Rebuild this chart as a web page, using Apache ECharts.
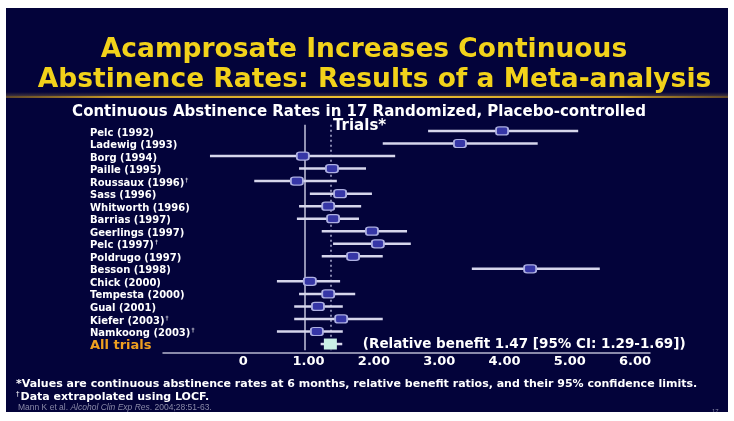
<!DOCTYPE html>
<html>
<head>
<meta charset="utf-8">
<script src="https://cdn.jsdelivr.net/npm/echarts@6/dist/echarts.min.js"></script>
<style>
  html, body { margin: 0; padding: 0; background: #ffffff; }
  #chart { width: 734px; height: 421px; }
</style>
</head>
<body>
<div id="chart"></div>
<script>
// Trials in the meta-analysis, top to bottom
const trials = [
  'Pelc (1992)', 'Ladewig (1993)', 'Borg (1994)', 'Paille (1995)',
  'Roussaux (1996)', 'Sass (1996)', 'Whitworth (1996)', 'Barrias (1997)',
  'Geerlings (1997)', 'Pelc (1997)', 'Poldrugo (1997)', 'Besson (1998)',
  'Chick (2000)', 'Tempesta (2000)', 'Gual (2001)', 'Kiefer (2003)',
  'Namkoong (2003)'
];
// Trials whose data were extrapolated using LOCF
const locfTrials = ['Roussaux (1996)', 'Pelc (1997)', 'Kiefer (2003)', 'Namkoong (2003)'];

// Relative benefit and 95% confidence limits for each trial
const relativeBenefit = [4.65, 3.87, 0.96, 1.50, 0.85, 1.65, 1.43, 1.52, 2.24, 2.35, 1.89, 5.17, 1.09, 1.43, 1.24, 1.67, 1.22];
const ciLower         = [3.28, 2.44, -0.76, 0.89, 0.06, 1.09, 0.89, 0.85, 1.31, 1.52, 1.31, 4.09, 0.48, 0.89, 0.80, 0.80, 0.48];
const ciUpper         = [6.06, 5.31, 2.67, 2.13, 1.59, 2.24, 2.04, 2.00, 2.89, 2.96, 2.44, 6.46, 1.65, 1.93, 1.70, 2.44, 1.70];

// Pooled result
const pooledName = 'All trials';
const pooledBenefit = 1.47;
const pooledLower = 1.29;
const pooledUpper = 1.69;

// Printed scale under the plot
const tickValues = [0, 1, 2, 3, 4, 5, 6];
const tickLabels = ['0', '1.00', '2.00', '3.00', '4.00', '5.00', '6.00'];

const titleLines = ['Acamprosate Increases Continuous', 'Abstinence Rates: Results of a Meta-analysis'];
const subtitleLines = ['Continuous Abstinence Rates in 17 Randomized, Placebo-controlled', 'Trials*'];
const footnotes = [
  '*Values are continuous abstinence rates at 6 months, relative benefit ratios, and their 95% confidence limits.',
  'Data extrapolated using LOCF.'
];
const citation = ['Mann K et al. ', 'Alcohol Clin Exp Res', '. 2004;28:51-63.'];
const slideNumber = '17';

const categories = trials.concat([pooledName]);
const lowerAll = ciLower.concat([pooledLower]);
const upperAll = ciUpper.concat([pooledUpper]);

const NAVY = '#03033a';
const LABEL_FONT = 'DejaVu Sans';

const chart = echarts.init(document.getElementById('chart'), null, { renderer: 'canvas' });

const option = {
  backgroundColor: NAVY,
  animation: false,
  grid: [
    { left: 163, right: 84, top: 124.7, bottom: 70.7 },
    { left: 243.3, right: 98.9, top: 124.7, bottom: 70.7 }
  ],
  xAxis: [
    {
      type: 'value', gridIndex: 0, min: -1.63, max: 7.39, offset: 2,
      axisLine: { show: true, lineStyle: { color: '#b8b8d0', width: 1.5 } },
      axisTick: { show: false }, axisLabel: { show: false }, splitLine: { show: false }
    },
    {
      type: 'value', gridIndex: 1, min: 0, max: 6, interval: 1,
      axisLine: { show: false }, axisTick: { show: false }, splitLine: { show: false },
      axisLabel: {
        show: true, margin: 5, color: '#ffffff', fontFamily: LABEL_FONT,
        fontWeight: 'bold', fontSize: 13, showMinLabel: true, showMaxLabel: true,
        formatter: v => { const i = tickValues.indexOf(v); return i >= 0 ? tickLabels[i] : ''; }
      }
    }
  ],
  yAxis: [
    {
      type: 'category', gridIndex: 0, data: categories, inverse: true,
      axisLine: { show: false }, axisTick: { show: false }, splitLine: { show: false },
      axisLabel: {
        interval: 0, margin: 73, align: 'left', padding: [4, 0, 0, 0],
        formatter: name => {
          if (name === pooledName) return '{all|' + name + '}';
          return '{n|' + name + '}' + (locfTrials.indexOf(name) >= 0 ? '{d|†}' : '');
        },
        rich: {
          n: { color: '#ffffff', fontFamily: LABEL_FONT, fontWeight: 'bold', fontSize: 10 },
          d: { color: '#ffffff', fontFamily: LABEL_FONT, fontSize: 6, padding: [0, 0, 6, 1] },
          all: { color: '#f0a020', fontFamily: LABEL_FONT, fontWeight: 'bold', fontSize: 13 }
        }
      }
    },
    { type: 'value', gridIndex: 1, show: false, min: 0, max: 1 }
  ],
  series: [
    {
      // confidence interval bars
      type: 'custom', xAxisIndex: 0, yAxisIndex: 0, z: 3,
      data: categories.map((c, i) => [i, lowerAll[i], upperAll[i]]),
      encode: { x: [1, 2], y: 0 },
      renderItem: (params, api) => {
        const a = api.coord([api.value(1), api.value(0)]);
        const b = api.coord([api.value(2), api.value(0)]);
        return {
          type: 'line',
          shape: { x1: a[0], y1: a[1], x2: b[0], y2: b[1] },
          style: { stroke: '#d6d6ec', lineWidth: 2.5 }
        };
      },
      markLine: {
        silent: true, symbol: 'none', label: { show: false }, z: 1,
        data: [
          { xAxis: 1, lineStyle: { color: '#c4c4dc', width: 1.5, type: 'solid' } },
          { xAxis: pooledBenefit, lineStyle: { color: '#b0b0d4', width: 1.5, type: [2, 3] } }
        ]
      }
    },
    {
      // point estimates for each trial
      type: 'scatter', xAxisIndex: 0, yAxisIndex: 0, z: 5,
      symbol: 'roundRect', symbolSize: [12, 8],
      itemStyle: { color: '#3636a6', borderColor: '#aeb0e2', borderWidth: 1.5, opacity: 1 },
      data: trials.map((t, i) => [relativeBenefit[i], t])
    },
    {
      // pooled estimate
      type: 'scatter', xAxisIndex: 0, yAxisIndex: 0, z: 6,
      symbol: 'rect', symbolSize: [13, 11],
      itemStyle: { color: '#c9f0e6', opacity: 1 },
      data: [[pooledBenefit, pooledName]],
      label: {
        show: true, position: 'right', distance: 26, color: '#ffffff',
        fontFamily: LABEL_FONT, fontWeight: 'bold', fontSize: 13.5,
        formatter: () => '(Relative benefit ' + pooledBenefit.toFixed(2) + ' [95% CI: ' +
          pooledLower.toFixed(2) + '-' + pooledUpper.toFixed(2) + '])'
      }
    }
  ],
  graphic: [
    // gold rule under the title, with a soft glow above it
    {
      type: 'rect', shape: { x: 6, y: 92, width: 722, height: 4 }, silent: true,
      style: {
        fill: new echarts.graphic.LinearGradient(0, 0, 0, 1, [
          { offset: 0, color: 'rgba(200,160,70,0)' },
          { offset: 1, color: 'rgba(200,160,70,0.3)' }
        ])
      }
    },
    {
      type: 'rect', shape: { x: 6, y: 96, width: 722, height: 2 }, silent: true,
      style: {
        fill: new echarts.graphic.LinearGradient(0, 0, 1, 0, [
          { offset: 0, color: 'rgba(160,120,30,0.6)' },
          { offset: 0.15, color: '#c89a28' },
          { offset: 0.5, color: '#f2c432' },
          { offset: 0.85, color: '#c89a28' },
          { offset: 1, color: 'rgba(160,120,30,0.6)' }
        ])
      }
    },
    {
      type: 'text', x: 364, y: 50, silent: true,
      style: { text: titleLines[0], fill: '#f2d21a', font: 'bold 26.5px "DejaVu Sans"', align: 'center', verticalAlign: 'middle' }
    },
    {
      type: 'text', x: 374.5, y: 80, silent: true,
      style: { text: titleLines[1], fill: '#f2d21a', font: 'bold 26.5px "DejaVu Sans"', align: 'center', verticalAlign: 'middle' }
    },
    {
      type: 'text', x: 359, y: 112, silent: true,
      style: { text: subtitleLines[0], fill: '#ffffff', font: 'bold 15px "DejaVu Sans"', align: 'center', verticalAlign: 'middle' }
    },
    {
      type: 'text', x: 333, y: 126, silent: true,
      style: { text: subtitleLines[1], fill: '#ffffff', font: 'bold 15px "DejaVu Sans"', align: 'left', verticalAlign: 'middle' }
    },
    {
      type: 'text', x: 16, y: 384, silent: true,
      style: { text: footnotes[0], fill: '#ffffff', font: 'bold 11px "DejaVu Sans"', align: 'left', verticalAlign: 'middle' }
    },
    {
      type: 'text', x: 16, y: 397, silent: true,
      style: {
        text: '{d|†}{t|' + footnotes[1] + '}', align: 'left', verticalAlign: 'middle',
        rich: {
          d: { fill: '#ffffff', font: '7px "DejaVu Sans"', padding: [0, 1, 5, 0] },
          t: { fill: '#ffffff', font: 'bold 11px "DejaVu Sans"' }
        }
      }
    },
    {
      type: 'text', x: 18, y: 408, silent: true,
      style: {
        text: '{a|' + citation[0] + '}{b|' + citation[1] + '}{a|' + citation[2] + '}',
        align: 'left', verticalAlign: 'middle',
        rich: {
          a: { fill: '#8a8aa8', font: '8.5px "Liberation Sans"' },
          b: { fill: '#8a8aa8', font: 'italic 8.5px "Liberation Sans"' }
        }
      }
    },
    {
      type: 'text', x: 712, y: 411, silent: true,
      style: { text: slideNumber, fill: '#8a8aa8', font: '6px "Liberation Sans"', align: 'left', verticalAlign: 'middle' }
    },
    // white margin round the slide
    { type: 'rect', shape: { x: 0, y: 0, width: 734, height: 8 }, style: { fill: '#ffffff' }, silent: true, z: 100 },
    { type: 'rect', shape: { x: 0, y: 412, width: 734, height: 9 }, style: { fill: '#ffffff' }, silent: true, z: 100 },
    { type: 'rect', shape: { x: 0, y: 0, width: 6, height: 421 }, style: { fill: '#ffffff' }, silent: true, z: 100 },
    { type: 'rect', shape: { x: 728, y: 0, width: 6, height: 421 }, style: { fill: '#ffffff' }, silent: true, z: 100 }
  ]
};

chart.setOption(option);
</script>
</body>
</html>
